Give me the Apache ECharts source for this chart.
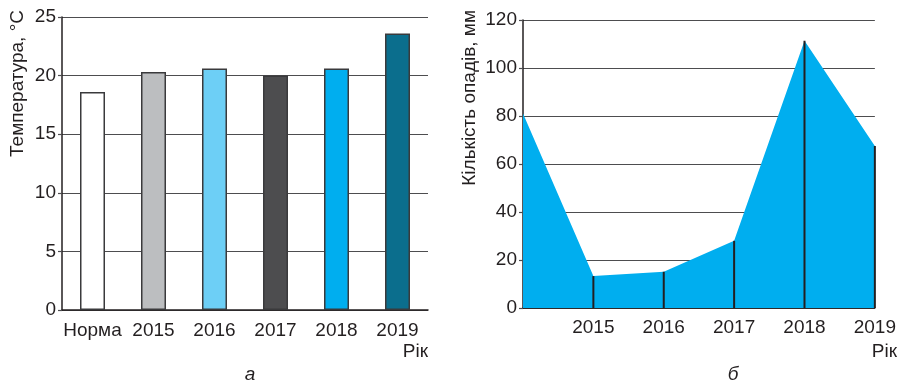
<!DOCTYPE html>
<html>
<head>
<meta charset="utf-8">
<script src="https://cdn.jsdelivr.net/npm/echarts@6/dist/echarts.min.js"></script>
<style>
  html, body { margin: 0; padding: 0; background: #fff; }
  #chart { width: 899px; height: 384px; }
</style>
</head>
<body>
<div id="chart"></div>
<script>
// --- data ---
const tempCategories = ['Норма', '2015', '2016', '2017', '2018', '2019'];
const tempValues = [18.6, 20.3, 20.6, 20.0, 20.6, 23.6];
const tempColors = ['#ffffff', '#bcbec0', '#6dcff6', '#4d4d4f', '#00aeef', '#0b6e8d'];

const rainCategories = ['', '2015', '2016', '2017', '2018', '2019'];
const rainValues = [81, 13.3, 15.1, 28, 111.4, 67.5];

const FONT = 'Liberation Sans, Arial, sans-serif';
const TXT = '#231f20';

const chart = echarts.init(document.getElementById('chart'), null, { renderer: 'canvas' });

const yCommon = {
  type: 'value',
  axisLine: { show: true, lineStyle: { color: '#231f20', width: 1.5 } },
  axisTick: { show: true, length: 4, lineStyle: { color: '#4d4d4f', width: 1.2 } },
  splitLine: { show: true, lineStyle: { color: '#4d4d4f', width: 1.2 } },
  axisLabel: { color: TXT, fontFamily: FONT, fontSize: 19, margin: 6 }
};

const option = {
  animation: false,
  grid: [
    { left: 62, right: 471, top: 17, bottom: 74 },
    { left: 523, right: 21, top: 20, bottom: 76 }
  ],
  xAxis: [
    {
      gridIndex: 0,
      type: 'category',
      data: tempCategories,
      axisLine: { lineStyle: { color: '#231f20', width: 1.5 } },
      axisTick: { show: false },
      axisLabel: { color: TXT, fontFamily: FONT, fontSize: 19, margin: 11, interval: 0 }
    },
    {
      gridIndex: 1,
      type: 'category',
      data: rainCategories,
      boundaryGap: false,
      axisLine: { lineStyle: { color: '#231f20', width: 1.5 } },
      axisTick: { show: false },
      axisLabel: { color: TXT, fontFamily: FONT, fontSize: 19, margin: 10, interval: 0 }
    }
  ],
  yAxis: [
    Object.assign({ gridIndex: 0, min: 0, max: 25, interval: 5 }, yCommon),
    Object.assign({ gridIndex: 1, min: 0, max: 120, interval: 20 }, yCommon)
  ],
  series: [
    {
      type: 'bar',
      xAxisIndex: 0,
      yAxisIndex: 0,
      barWidth: 25,
      data: tempValues.map((v, i) => ({
        value: v,
        itemStyle: { color: tempColors[i], borderColor: '#3a3a3c', borderWidth: 1.5 }
      }))
    },
    {
      type: 'line',
      xAxisIndex: 1,
      yAxisIndex: 1,
      data: rainValues,
      symbol: 'none',
      lineStyle: { width: 0 },
      areaStyle: { color: '#00aeef', opacity: 1 },
      z: 2
    },
    {
      type: 'bar',
      xAxisIndex: 1,
      yAxisIndex: 1,
      barWidth: 2,
      data: rainValues.map((v, i) => (i === 0 ? '-' : v)),
      itemStyle: { color: '#231f20' },
      z: 3
    }
  ],
  graphic: [
    {
      type: 'text', x: 18, y: 10, rotation: Math.PI / 2,
      style: { text: 'Температура, °C', fill: TXT, font: '19px ' + FONT, textAlign: 'right', textVerticalAlign: 'middle' }
    },
    {
      type: 'text', x: 470, y: 10, rotation: Math.PI / 2,
      style: { text: 'Кількість опадів, мм', fill: TXT, font: '19px ' + FONT, textAlign: 'right', textVerticalAlign: 'middle' }
    },
    {
      type: 'text', x: 428, y: 352,
      style: { text: 'Рік', fill: TXT, font: '19px ' + FONT, textAlign: 'right', textVerticalAlign: 'middle' }
    },
    {
      type: 'text', x: 897, y: 352,
      style: { text: 'Рік', fill: TXT, font: '19px ' + FONT, textAlign: 'right', textVerticalAlign: 'middle' }
    },
    {
      type: 'text', x: 250, y: 375,
      style: { text: 'а', fill: TXT, font: 'italic 19px ' + FONT, textAlign: 'center', textVerticalAlign: 'middle' }
    },
    {
      type: 'text', x: 733, y: 375,
      style: { text: 'б', fill: TXT, font: 'italic 19px ' + FONT, textAlign: 'center', textVerticalAlign: 'middle' }
    }
  ]
};

chart.setOption(option);
</script>
</body>
</html>
